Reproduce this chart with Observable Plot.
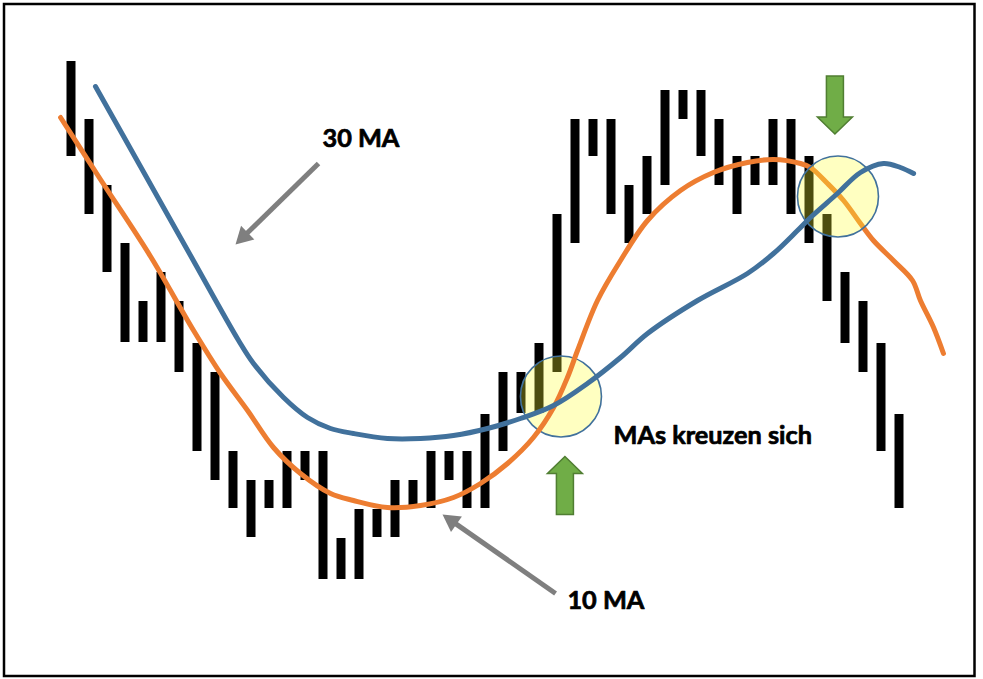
<!DOCTYPE html>
<html>
<head>
<meta charset="utf-8">
<script src="https://cdn.jsdelivr.net/npm/d3@7"></script>
<script src="https://cdn.jsdelivr.net/npm/@observablehq/plot@0.6"></script>
<style>
  html, body { margin: 0; padding: 0; background: #fff; }
  #chart svg { display: block; }
</style>
</head>
<body>
<div id="chart"></div>
<script>
// ---- Data (price units, bar index on x) ----
const barHigh = [618,560,494,436,378,407,378,336,307,228,199,199,228,228,228,141,170,170,199,199,228,228,228,265,307,307,336,465,560,560,560,494,523,589,589,589,560,523,523,560,560,523,465,407,378,336,265];
const barLow  = [523,465,407,337,337,337,307,228,199,171,142,171,171,199,100,100,100,142,142,171,171,199,171,171,228,266,266,307,436,523,465,436,465,494,560,523,494,465,494,494,465,436,378,336,307,228,171];

const ma10X = [-0.58,1.64,4.42,6.81,8.31,9.81,11.25,12.75,14.42,15.69,17.58,19.42,21.25,22.75,24.25,25.69,26.81,27.58,28.14,29.25,30.53,32.03,33.86,35.69,37.58,39.03,40.53,41.08,42.03,42.92,43.86,44.58,45.69,46.75,47.19,47.92,48.47];
const ma10Y = [562,500,423,349,306,269,232,206,186,179,172,174,182,196,216,242,272,302,329,379,419,459,489,507,517,520,516,512,496,479,456,439,419,399,379,352,326];

const ma30X = [1.36,3.86,6.64,9.31,10.14,11.81,13.14,14.42,15.69,17.58,19.42,21.25,23.14,24.97,26.81,28.69,30.53,32.03,34.81,37.58,39.03,40.36,41.08,42.58,43.86,45.14,46.08,46.81];
const ma30Y = [593,513,424,339,316,282,262,251,246,241,241,244,251,261,274,296,322,346,379,406,426,449,462,486,507,516,512,506];

// crossing highlights
const crossX = [27.22, 42.61];
const crossY = [283, 483];

// signal arrows (up = buy, down = sell)
const signalX = [27.44, 42.44];
const signalY = [194, 574.5];
const signalDir = ["up", "down"];

// labels
const labelText = ["30 MA", "MAs kreuzen sich", "10 MA"];
const labelX = [13.97, 30.14, 27.58];
const labelY = [541, 244, 79];

// pointer arrows (tail -> tip)
const pointerX1 = [13.75, 26.92];
const pointerY1 = [516, 86];
const pointerX2 = [9.14, 20.64];
const pointerY2 = [435, 165];

// ---- Build tables ----
const bars = barHigh.map((h, i) => ({i, high: h, low: barLow[i]}));
const ma10 = ma10X.map((x, k) => ({x, y: ma10Y[k]}));
const ma30 = ma30X.map((x, k) => ({x, y: ma30Y[k]}));
const crosses = crossX.map((x, k) => ({x, y: crossY[k]}));
const signals = signalX.map((x, k) => ({x, y: signalY[k], rot: signalDir[k] === "up" ? 0 : 180}));
const labels = labelText.map((t, k) => ({t, x: labelX[k], y: labelY[k]}));

const W = 983, H = 679;
const xDomain = [0, 46], xRange = [70.5, 898.5];
const yDomain = [0, 679], yRange = [679, 0];
const xs = d3.scaleLinear(xDomain, xRange);
const ys = d3.scaleLinear(yDomain, yRange);

const HEAD_LEN = 17;
const pointers = pointerX1.map((x1, k) => {
  const px1 = xs(x1), py1 = ys(pointerY1[k]);
  const px2 = xs(pointerX2[k]), py2 = ys(pointerY2[k]);
  const dx = px2 - px1, dy = py2 - py1;
  const len = Math.hypot(dx, dy);
  const ex = px2 - dx / len * (HEAD_LEN - 2), ey = py2 - dy / len * (HEAD_LEN - 2);
  return {
    x1, y1: pointerY1[k],
    x2: pointerX2[k], y2: pointerY2[k],
    xe: xs.invert(ex), ye: ys.invert(ey),
    rot: Math.atan2(dx, -dy) * 180 / Math.PI
  };
});

// custom symbols
const blockArrow = {
  draw(ctx) {
    ctx.moveTo(0, -29);
    ctx.lineTo(17.5, -12);
    ctx.lineTo(8.5, -12);
    ctx.lineTo(8.5, 29);
    ctx.lineTo(-8.5, 29);
    ctx.lineTo(-8.5, -12);
    ctx.lineTo(-17.5, -12);
    ctx.closePath();
  }
};
const pointerHead = {
  draw(ctx) {
    ctx.moveTo(0, 0);
    ctx.lineTo(9.5, HEAD_LEN);
    ctx.lineTo(-9.5, HEAD_LEN);
    ctx.closePath();
  }
};

const chart = Plot.plot({
  width: W,
  height: H,
  marginTop: 3.5,
  marginLeft: 3.5,
  marginRight: W - 974,
  marginBottom: H - 675.5,
  x: {domain: xDomain, range: xRange, axis: null},
  y: {domain: yDomain, range: yRange, axis: null},
  style: {background: "#fff"},
  marks: [
    Plot.ruleX(bars, {x: "i", y1: "low", y2: "high", stroke: "#000", strokeWidth: 9}),
    Plot.dot([crosses[0]], {x: "x", y: "y", r: 40.5, fill: "#ffff33", fillOpacity: 0.3, stroke: "#41719C", strokeWidth: 1.6}),
    Plot.line(ma10, {x: "x", y: "y", stroke: "#ED7D31", strokeWidth: 5, curve: "catmull-rom"}),
    Plot.dot([crosses[1]], {x: "x", y: "y", r: 40.5, fill: "#ffff33", fillOpacity: 0.3, stroke: "#41719C", strokeWidth: 1.6}),
    Plot.line(ma30, {x: "x", y: "y", stroke: "#41719C", strokeWidth: 5, curve: "catmull-rom"}),
    Plot.link(pointers, {x1: "x1", y1: "y1", x2: "xe", y2: "ye", stroke: "#7F7F7F", strokeWidth: 5}),
    Plot.dot(pointers, {x: "x2", y: "y2", symbol: pointerHead, rotate: "rot", fill: "#7F7F7F", stroke: "none", r: 10}),
    Plot.dot(signals, {x: "x", y: "y", symbol: blockArrow, rotate: "rot", fill: "#70AD47", stroke: "#507E32", strokeWidth: 1.5, r: 10}),
    Plot.text(labels, {x: "x", y: "y", text: "t", textAnchor: "start", lineAnchor: "middle", fontFamily: "Lato", fontWeight: "bold", fontSize: 25.3, fill: "#000", stroke: "#000", strokeWidth: 0.7}),
    Plot.frame({stroke: "#000", strokeWidth: 2.5})
  ]
});
document.getElementById("chart").appendChild(chart);
</script>
</body>
</html>
